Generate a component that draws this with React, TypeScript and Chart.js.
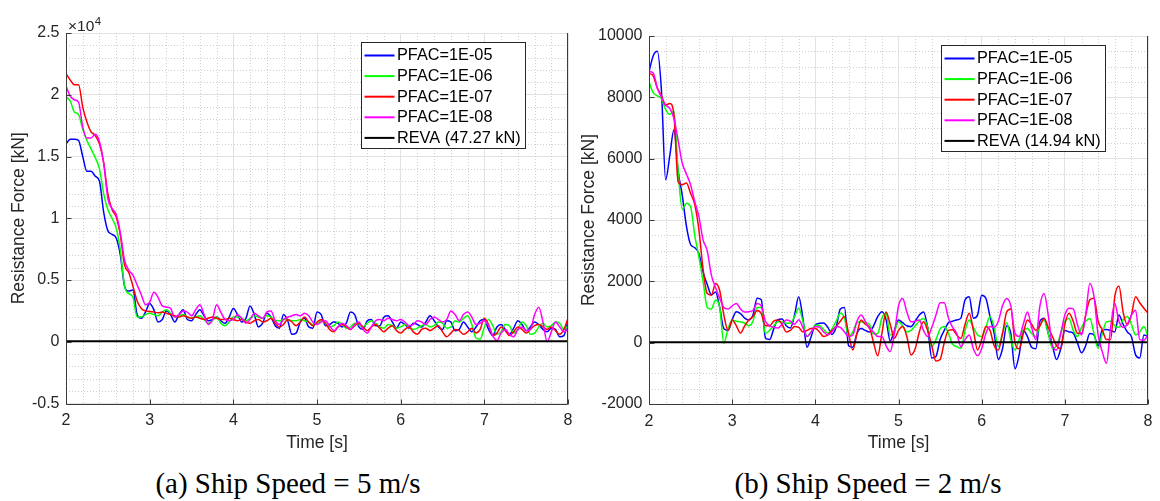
import React, { useEffect, useRef } from 'react';
import { Chart, registerables } from 'chart.js';

Chart.register(...registerables);

// ---------------- data ----------------
const TIME = [
  2, 2.05, 2.1, 2.15, 2.2, 2.25, 2.3, 2.35, 2.4, 2.45,
  2.5, 2.55, 2.6, 2.65, 2.7, 2.75, 2.8, 2.85, 2.9, 2.95,
  3, 3.05, 3.1, 3.15, 3.2, 3.25, 3.3, 3.35, 3.4, 3.45,
  3.5, 3.55, 3.6, 3.65, 3.7, 3.75, 3.8, 3.85, 3.9, 3.95,
  4, 4.05, 4.1, 4.15, 4.2, 4.25, 4.3, 4.35, 4.4, 4.45,
  4.5, 4.55, 4.6, 4.65, 4.7, 4.75, 4.8, 4.85, 4.9, 4.95,
  5, 5.05, 5.1, 5.15, 5.2, 5.25, 5.3, 5.35, 5.4, 5.45,
  5.5, 5.55, 5.6, 5.65, 5.7, 5.75, 5.8, 5.85, 5.9, 5.95,
  6, 6.05, 6.1, 6.15, 6.2, 6.25, 6.3, 6.35, 6.4, 6.45,
  6.5, 6.55, 6.6, 6.65, 6.7, 6.75, 6.8, 6.85, 6.9, 6.95,
  7, 7.05, 7.1, 7.15, 7.2, 7.25, 7.3, 7.35, 7.4, 7.45,
  7.5, 7.55, 7.6, 7.65, 7.7, 7.75, 7.8, 7.85, 7.9, 7.95,
  8,
];

const SERIES_LABELS = ['PFAC=1E-05', 'PFAC=1E-06', 'PFAC=1E-07', 'PFAC=1E-08'];
const SERIES_COLORS = ['#0000ff', '#00ff00', '#ff0000', '#ff00ff'];

// (a) Ship speed 5 m/s, resistance force in units of 1e4 kN
const A_PFAC_1E05 = [
  1.60, 1.64, 1.64, 1.63, 1.50, 1.38, 1.38, 1.34, 1.30, 1.05,
  0.90, 0.87, 0.84, 0.70, 0.45, 0.41, 0.42, 0.22, 0.19, 0.24,
  0.31, 0.26, 0.16, 0.18, 0.25, 0.22, 0.16, 0.22, 0.26, 0.18,
  0.17, 0.22, 0.26, 0.21, 0.17, 0.18, 0.20, 0.17, 0.15, 0.20,
  0.27, 0.22, 0.16, 0.19, 0.29, 0.22, 0.12, 0.15, 0.23, 0.20,
  0.13, 0.11, 0.22, 0.17, 0.06, 0.07, 0.16, 0.19, 0.12, 0.11,
  0.24, 0.22, 0.13, 0.14, 0.16, 0.15, 0.12, 0.15, 0.24, 0.22,
  0.12, 0.10, 0.17, 0.18, 0.13, 0.13, 0.20, 0.21, 0.16, 0.11,
  0.16, 0.14, 0.11, 0.15, 0.14, 0.12, 0.16, 0.21, 0.17, 0.12,
  0.10, 0.17, 0.16, 0.09, 0.10, 0.16, 0.12, 0.08, 0.12, 0.17,
  0.18, 0.10, 0.05, 0.12, 0.14, 0.10, 0.06, 0.11, 0.17, 0.14,
  0.09, 0.12, 0.16, 0.14, 0.10, 0.08, 0.11, 0.10, 0.04, 0.05,
  0.18,
];
const A_PFAC_1E06 = [
  1.985, 1.95, 1.86, 1.84, 1.72, 1.63, 1.56, 1.49, 1.40, 1.20,
  1.07, 1.00, 0.92, 0.74, 0.45, 0.39, 0.36, 0.20, 0.20, 0.22,
  0.23, 0.22, 0.21, 0.24, 0.26, 0.23, 0.20, 0.21, 0.22, 0.20,
  0.19, 0.20, 0.21, 0.18, 0.15, 0.17, 0.20, 0.15, 0.13, 0.16,
  0.20, 0.20, 0.19, 0.17, 0.19, 0.21, 0.20, 0.19, 0.21, 0.20,
  0.17, 0.17, 0.18, 0.18, 0.17, 0.17, 0.18, 0.17, 0.16, 0.14,
  0.15, 0.17, 0.15, 0.12, 0.13, 0.16, 0.14, 0.11, 0.12, 0.15,
  0.14, 0.12, 0.15, 0.17, 0.15, 0.12, 0.11, 0.14, 0.13, 0.11,
  0.12, 0.14, 0.12, 0.10, 0.11, 0.13, 0.14, 0.12, 0.13, 0.16,
  0.15, 0.11, 0.12, 0.17, 0.16, 0.19, 0.21, 0.14, 0.03, 0.02,
  0.12, 0.18, 0.13, 0.06, 0.08, 0.14, 0.13, 0.07, 0.10, 0.16,
  0.13, 0.06, 0.07, 0.12, 0.15, 0.12, 0.13, 0.16, 0.15, 0.10,
  0.13,
];
const A_PFAC_1E07 = [
  2.17, 2.12, 2.08, 2.08, 1.90, 1.78, 1.70, 1.67, 1.60, 1.45,
  1.20, 1.07, 1.01, 0.86, 0.62, 0.56, 0.45, 0.33, 0.27, 0.25,
  0.245, 0.24, 0.235, 0.24, 0.23, 0.22, 0.21, 0.20, 0.21, 0.20,
  0.19, 0.20, 0.19, 0.18, 0.19, 0.20, 0.19, 0.18, 0.18, 0.19,
  0.18, 0.17, 0.18, 0.16, 0.15, 0.17, 0.18, 0.16, 0.17, 0.19,
  0.15, 0.12, 0.14, 0.18, 0.16, 0.13, 0.16, 0.20, 0.16, 0.13,
  0.16, 0.18, 0.15, 0.10, 0.08, 0.12, 0.14, 0.12, 0.10, 0.13,
  0.15, 0.12, 0.09, 0.12, 0.14, 0.11, 0.08, 0.11, 0.13, 0.09,
  0.07, 0.10, 0.12, 0.08, 0.06, 0.10, 0.11, 0.09, 0.11, 0.13,
  0.08, 0.04, 0.07, 0.10, 0.09, 0.06, 0.08, 0.11, 0.07, 0.10,
  0.19, 0.14, 0.05, 0.07, 0.12, 0.09, 0.05, 0.08, 0.12, 0.10,
  0.07, 0.10, 0.13, 0.14, 0.12, 0.10, 0.12, 0.09, 0.06, 0.10,
  0.19,
];
const A_PFAC_1E08 = [
  2.07, 1.99, 1.96, 1.94, 1.74, 1.65, 1.65, 1.68, 1.62, 1.45,
  1.16, 1.08, 1.03, 0.88, 0.66, 0.58, 0.54, 0.46, 0.38, 0.30,
  0.32, 0.40, 0.36, 0.29, 0.28, 0.27, 0.20, 0.22, 0.25, 0.24,
  0.21, 0.26, 0.30, 0.22, 0.14, 0.18, 0.30, 0.24, 0.18, 0.17,
  0.18, 0.22, 0.19, 0.15, 0.18, 0.23, 0.21, 0.19, 0.24, 0.25,
  0.17, 0.14, 0.18, 0.20, 0.21, 0.22, 0.21, 0.23, 0.21, 0.16,
  0.14, 0.16, 0.17, 0.13, 0.09, 0.12, 0.15, 0.13, 0.10, 0.14,
  0.16, 0.10, 0.07, 0.12, 0.17, 0.18, 0.17, 0.19, 0.18, 0.17,
  0.18, 0.16, 0.13, 0.14, 0.17, 0.16, 0.14, 0.18, 0.20, 0.18,
  0.16, 0.18, 0.25, 0.22, 0.17, 0.22, 0.24, 0.20, 0.14, 0.15,
  0.17, 0.13, 0.05, 0.01, 0.07, 0.10, 0.06, 0.04, 0.10, 0.12,
  0.09, 0.10, 0.22, 0.28, 0.16, 0.00, 0.08, 0.16, 0.12, 0.08,
  0.10,
];
const A_REVA = 0.004727; // 47.27 kN in units of 1e4 kN
const A_REVA_LABEL = 'REVA (47.27 kN)';
const A_Y_TICKS = { min: -0.5, max: 2.5, step: 0.5, minor: 0.1 };

// (b) Ship speed 2 m/s, resistance force in kN
const B_PFAC_1E05 = [
  8835, 9350, 9500, 8200, 5310, 6100, 6940, 5600, 4800, 3800,
  3200, 3100, 2900, 2300, 1900, 1560, 1650, 1150, 450, 400,
  750, 1010, 950, 800, 740, 900, 1450, 1400, 150, 100,
  450, 750, 770, 550, 480, 900, 1500, 800, -150, 200,
  580, 630, 640, 500, 270, 500, 1100, 1150, -100, -150,
  300, 460, 400, 350, 550, 850, 1010, 750, 50, 400,
  740, 650, 550, 525, 700, 900, 1000, 500, -500, -450,
  100, 400, 650, 700, 740, 800, 1400, 1500, 800, 900,
  1550, 1450, 850, 300, -550, -200, 550, 300, -850, -400,
  400, 200, -150, -200, 700, 800, 300, -100, -550, -200,
  400, 350, 310, 0, -330, -100, 300, 250, -100, 420,
  430, 400, 350, 900, 600, 350, 200, -400, -500, 250,
  200,
];
const B_PFAC_1E06 = [
  8510, 8150, 8050, 7960, 7600, 7450, 7550, 5600, 4350, 4550,
  4440, 3500, 2800, 2000, 1150, 1100, 1390, 1150, -20, 450,
  740, 700, 680, 640, 550, 700, 1150, 1150, 300, 400,
  550, 680, 680, 630, 640, 850, 1120, 700, 200, 350,
  580, 560, 430, 310, 450, 700, 960, 800, 200, 350,
  650, 680, 660, 600, 280, 300, 800, 960, 250, 350,
  680, 550, 350, 400, 550, 700, 790, 500, -130, 100,
  450, 525, 300, -50, -130, -185, 400, 740, 500, 250,
  200, 500, 850, 500, -130, 300, 650, 100, -240, 100,
  400, 460, 300, 200, 550, 740, 300, -185, -100, 300,
  700, 790, 400, 200, 500, 700, 790, 300, -185, 300,
  680, 700, 550, 500, 750, 850, 600, 250, 350, 525,
  200,
];
const B_PFAC_1E07 = [
  8780, 8700, 8300, 8050, 7750, 7800, 7420, 5250, 5150, 5210,
  4870, 4500, 3680, 2400, 1600, 1550, 1930, 1700, 900, 400,
  740, 550, 310, 550, 740, 850, 1050, 950, 550, 550,
  700, 740, 600, 350, 400, 525, 500, 350, 400, 460,
  460, 350, 200, 250, 400, 525, 700, 850, 300, -240,
  300, 740, 600, 500, 0, -430, 300, 1000, 600, 140,
  400, 525, 200, -400, -200, 350, 680, 400, -100, -600,
  -550, 0, 400, 420, 250, 140, 600, 960, 400, -240,
  100, 525, 400, -100, -240, 300, 1000, 1100, 0, -200,
  300, 740, 600, 400, 550, 790, 500, 200, -100, -200,
  600, 960, 700, 310, 310, 900, 1400, 1450, 700, 420,
  100, 100, 1500, 1850, 1000, 580, 900, 1500, 1300, 1120,
  960,
];
const B_PFAC_1E08 = [
  8835, 8800, 8300, 8000, 7750, 7640, 7310, 6600, 5850, 5500,
  5150, 4600, 4110, 3350, 3000, 2200, 1800, 1450, 1150, 1100,
  1200, 1280, 1100, 1000, 1010, 1050, 1280, 1200, 700, 550,
  500, 480, 600, 740, 700, 600, 750, 500, 200, 350,
  525, 500, 350, 250, 350, 525, 500, 350, 200, 250,
  700, 900, 700, 460, 350, 200, 200, -100, -290, 300,
  1200, 1440, 1000, 680, 700, 740, 400, 200, 500, 900,
  1300, 1300, 800, 500, 300, -130, 100, 250, -200, -430,
  -200, 300, 525, 500, 700, 1200, 1440, 1200, 310, 200,
  600, 1000, 500, 100, 1200, 1600, 900, -100, -240, 300,
  900, 1120, 1100, 600, 250, 900, 1930, 1500, 250, -300,
  -670, 500, 1280, 700, 500, 600, 900, 1060, 100, 80,
  250,
];
const B_REVA = 14.94;
const B_REVA_LABEL = 'REVA (14.94 kN)';
const B_Y_TICKS = { min: -2000, max: 10000, step: 2000, minor: 500 };

const X_TICKS = { min: 2, max: 8, step: 1, minor: 0.2 };

const CAPTION_A = '(a) Ship Speed = 5 m/s';
const CAPTION_B = '(b) Ship Speed = 2 m/s';
const X_TITLE = 'Time [s]';
const Y_TITLE = 'Resistance Force [kN]';

// ---------------- styling ----------------
const SANS = '"Liberation Sans", Arial, Helvetica, sans-serif';
const TXT = '#262626';
const GRID = '#e2e2e2';
const MINOR = '#cfcfcf';
const AXIS = '#3a3a3a';
const TICK_SIZE = 16;
const TITLE_SIZE = 17.5;
const LEGEND_SIZE = 16.3;
const CW = 580;
const CH = 460;

const decorPlugin = {
  id: 'decor',
  beforeDatasetsDraw(chart: any, _a: any, o: any) {
    const { ctx, chartArea: ca, scales } = chart;
    const x = scales.x;
    const y = scales.y;
    ctx.save();
    ctx.strokeStyle = MINOR;
    ctx.lineWidth = 1;
    ctx.setLineDash([1, 2]);
    const nx = Math.round((x.max - x.min) / o.xMinor);
    const rx = Math.round(o.xMajor / o.xMinor);
    for (let k = 1; k < nx; k++) {
      if (k % rx === 0) continue;
      const px = Math.round(x.getPixelForValue(x.min + k * o.xMinor)) + 0.5;
      ctx.beginPath();
      ctx.moveTo(px, ca.top);
      ctx.lineTo(px, ca.bottom);
      ctx.stroke();
    }
    const ny = Math.round((y.max - y.min) / o.yMinor);
    const ry = Math.round(o.yMajor / o.yMinor);
    for (let k = 1; k < ny; k++) {
      if (k % ry === 0) continue;
      const py = Math.round(y.getPixelForValue(y.min + k * o.yMinor)) + 0.5;
      ctx.beginPath();
      ctx.moveTo(ca.left, py);
      ctx.lineTo(ca.right, py);
      ctx.stroke();
    }
    ctx.restore();
  },
  afterDatasetsDraw(chart: any, _a: any, o: any) {
    const { ctx, chartArea: ca, scales } = chart;
    const x = scales.x;
    const y = scales.y;
    ctx.save();
    // axes
    const L = Math.round(ca.left) + 0.5;
    const B = Math.round(ca.bottom) + 0.5;
    const R = Math.round(ca.right) - 0.5;
    ctx.strokeStyle = AXIS;
    ctx.lineWidth = 1;
    ctx.beginPath();
    ctx.moveTo(L, ca.top);
    ctx.lineTo(L, B);
    ctx.lineTo(R, B);
    ctx.lineTo(R, ca.top);
    ctx.stroke();
    // inward ticks
    ctx.beginPath();
    x.ticks.forEach((t: any) => {
      const px = Math.round(x.getPixelForValue(t.value)) + 0.5;
      ctx.moveTo(px, B);
      ctx.lineTo(px, B - 5);
    });
    y.ticks.forEach((t: any) => {
      const py = Math.round(y.getPixelForValue(t.value)) + 0.5;
      ctx.moveTo(L, py);
      ctx.lineTo(L + 5, py);
    });
    ctx.stroke();

    // legend
    const ds = chart.data.datasets;
    ctx.font = `${LEGEND_SIZE}px ${SANS}`;
    let maxW = 0;
    ds.forEach((d: any) => {
      maxW = Math.max(maxW, ctx.measureText(d.label).width);
    });
    const rowH = 20.6;
    const boxW = Math.round(36 + maxW + 4);
    const boxH = Math.round(13 + rowH * (ds.length - 1) + 10.6);
    const bx = Math.round(ca.right - 43.5 - boxW) + 0.5;
    const by = Math.round(ca.top + 8.5) + 0.5;
    ctx.fillStyle = '#ffffff';
    ctx.fillRect(bx, by, boxW, boxH);
    ctx.strokeStyle = TXT;
    ctx.lineWidth = 1;
    ctx.strokeRect(bx, by, boxW, boxH);
    ds.forEach((d: any, i: number) => {
      const cy = by + 13 + i * rowH;
      ctx.strokeStyle = d.borderColor;
      ctx.lineWidth = 2;
      ctx.beginPath();
      ctx.moveTo(bx + 3, cy);
      ctx.lineTo(bx + 33, cy);
      ctx.stroke();
      ctx.fillStyle = '#000000';
      ctx.textBaseline = 'middle';
      ctx.textAlign = 'left';
      ctx.fillText(d.label, bx + 35.5, cy + 0.5);
    });

    // exponent
    if (o.exponent) {
      ctx.fillStyle = TXT;
      ctx.textBaseline = 'alphabetic';
      ctx.textAlign = 'left';
      ctx.font = `15.5px ${SANS}`;
      const base = '\u00d710';
      const ex = ca.left + 2;
      ctx.fillText(base, ex, ca.top - 2);
      const w = ctx.measureText(base).width;
      ctx.font = `11.5px ${SANS}`;
      ctx.fillText(o.exponent, ex + w + 0.5, ca.top - 8.5);
    }
    ctx.restore();
  },
};

function buildConfig(p: {
  series: number[][];
  reva: number;
  revaLabel: string;
  yt: { min: number; max: number; step: number; minor: number };
  exponent: string;
  padTop: number;
  xAxisHeight: number;
  yAxisWidth: number;
  yTitlePad: number;
}): any {
  const datasets: any[] = p.series.map((vals, i) => ({
    label: SERIES_LABELS[i],
    data: TIME.map((t, j) => ({ x: t, y: vals[j] })),
    borderColor: SERIES_COLORS[i],
    backgroundColor: SERIES_COLORS[i],
    borderWidth: 1.5,
    pointRadius: 0,
    cubicInterpolationMode: 'monotone',
    fill: false,
    order: 5 - i,
  }));
  datasets.push({
    label: p.revaLabel,
    data: [
      { x: TIME[0], y: p.reva },
      { x: TIME[TIME.length - 1], y: p.reva },
    ],
    borderColor: '#000000',
    backgroundColor: '#000000',
    borderWidth: 2,
    pointRadius: 0,
    fill: false,
    order: 0,
  });
  return {
    type: 'line',
    data: { datasets },
    plugins: [decorPlugin],
    options: {
      animation: false,
      responsive: false,
      maintainAspectRatio: false,
      layout: { padding: { left: 0, right: CW - 573, top: p.padTop, bottom: 0 } },
      plugins: {
        legend: { display: false },
        tooltip: { enabled: false },
        decor: {
          xMinor: X_TICKS.minor,
          xMajor: X_TICKS.step,
          yMinor: p.yt.minor,
          yMajor: p.yt.step,
          exponent: p.exponent,
        },
      },
      scales: {
        x: {
          type: 'linear',
          min: X_TICKS.min,
          max: X_TICKS.max,
          afterFit: (s: any) => {
            s.height = p.xAxisHeight;
          },
          ticks: {
            stepSize: X_TICKS.step,
            padding: 7.5,
            color: TXT,
            font: { family: SANS, size: TICK_SIZE },
            maxRotation: 0,
            autoSkip: false,
            callback: (v: any) => String(v),
          },
          grid: { color: GRID, lineWidth: 1, drawTicks: false },
          border: { display: false },
          title: {
            display: true,
            text: X_TITLE,
            color: TXT,
            font: { family: SANS, size: TITLE_SIZE, lineHeight: 1 },
            padding: { top: 0, bottom: 8 },
          },
        },
        y: {
          type: 'linear',
          min: p.yt.min,
          max: p.yt.max,
          afterFit: (s: any) => {
            s.width = p.yAxisWidth;
          },
          ticks: {
            stepSize: p.yt.step,
            padding: 6.5,
            color: TXT,
            font: { family: SANS, size: TICK_SIZE },
            autoSkip: false,
            callback: (v: any) => String(v),
          },
          grid: { color: GRID, lineWidth: 1, drawTicks: false },
          border: { display: false },
          title: {
            display: true,
            text: Y_TITLE,
            color: TXT,
            font: { family: SANS, size: TITLE_SIZE, lineHeight: 1 },
            padding: { top: p.yTitlePad, bottom: 0 },
          },
        },
      },
    },
  };
}

function Panel({ left, config }: { left: number; config: any }) {
  const ref = useRef<HTMLCanvasElement | null>(null);
  useEffect(() => {
    if (!ref.current) return;
    const chart = new Chart(ref.current, config);
    return () => chart.destroy();
  }, [config]);
  return (
    <canvas
      ref={ref}
      width={CW}
      height={CH}
      style={{ position: 'absolute', left, top: 0, width: CW, height: CH, display: 'block' }}
    />
  );
}

const CONFIG_A = buildConfig({
  series: [A_PFAC_1E05, A_PFAC_1E06, A_PFAC_1E07, A_PFAC_1E08],
  reva: A_REVA,
  revaLabel: A_REVA_LABEL,
  yt: A_Y_TICKS,
  exponent: '4',
  padTop: 33,
  xAxisHeight: CH - 403.5,
  yAxisWidth: 66,
  yTitlePad: 10.5,
});

const CONFIG_B = buildConfig({
  series: [B_PFAC_1E05, B_PFAC_1E06, B_PFAC_1E07, B_PFAC_1E08],
  reva: B_REVA,
  revaLabel: B_REVA_LABEL,
  yt: B_Y_TICKS,
  exponent: '',
  padTop: 36,
  xAxisHeight: CH - 404,
  yAxisWidth: 69,
  yTitlePad: 0,
});

const captionStyle: React.CSSProperties = {
  position: 'absolute',
  top: 466,
  width: 576,
  textAlign: 'center',
  fontFamily: '"Liberation Serif", "Times New Roman", serif',
  fontSize: 29,
  lineHeight: '34px',
  color: '#000',
  whiteSpace: 'nowrap',
};

export default function App() {
  return (
    <div
      style={{
        position: 'absolute',
        left: 0,
        top: 0,
        width: 1160,
        height: 501,
        background: '#fff',
        overflow: 'hidden',
      }}
    >
      <Panel left={0} config={CONFIG_A} />
      <Panel left={580} config={CONFIG_B} />
      <div style={{ ...captionStyle, left: 0 }}>{CAPTION_A}</div>
      <div style={{ ...captionStyle, left: 580 }}>{CAPTION_B}</div>
    </div>
  );
}
